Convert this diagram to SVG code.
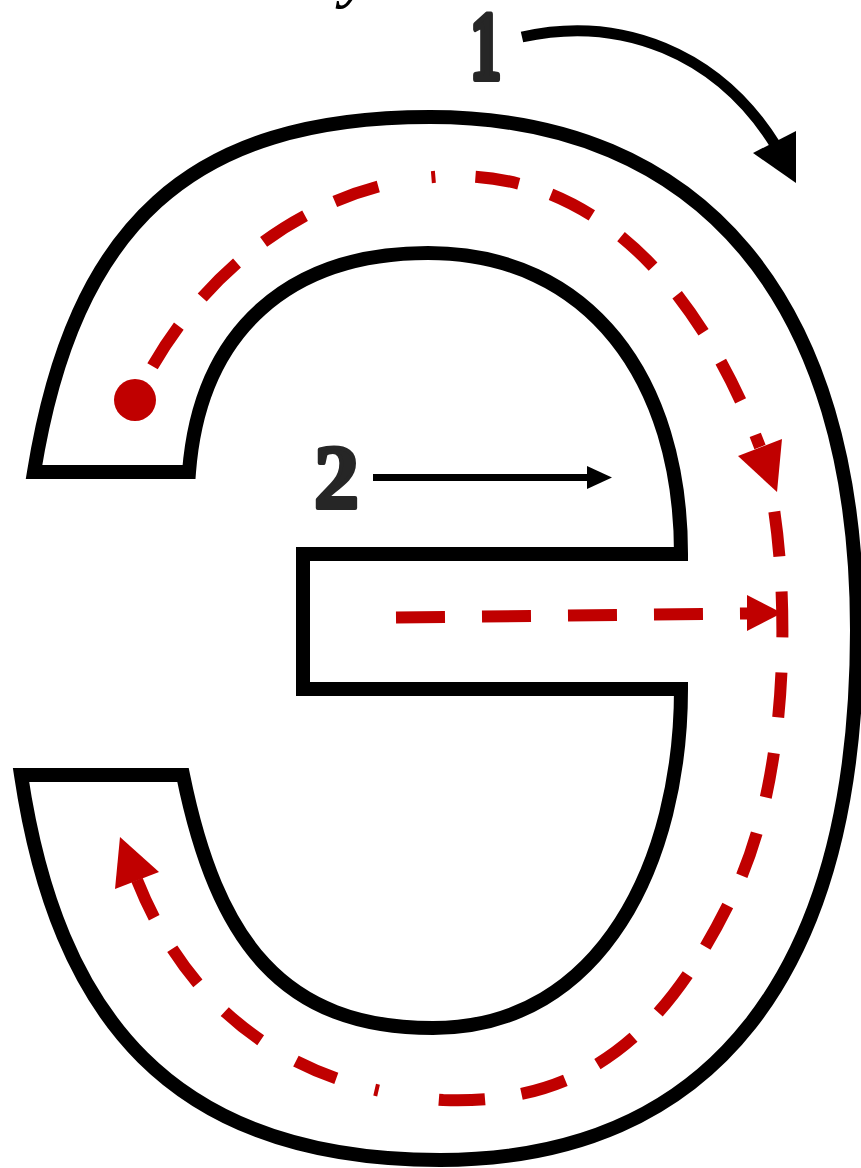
<svg xmlns="http://www.w3.org/2000/svg" width="861" height="1168" viewBox="0 0 861 1168">
<style>
.outline{fill:none;stroke:#000;stroke-width:14;stroke-linejoin:miter;stroke-miterlimit:10}
.guide{fill:none;stroke:#c00000;stroke-width:12;stroke-linecap:butt}
.redhead{fill:#c00000;stroke:none}
.blkline{fill:none;stroke:#000}
.blkhead{fill:#000;stroke:none}
.num{font-family:"Liberation Serif","Times New Roman",serif;font-weight:bold;fill:#262626;stroke:#262626;stroke-linejoin:round}
</style>
<rect x="0" y="0" width="861" height="1168" fill="#ffffff"/>
<g id="top-fragment">
<text x="342" y="-5" font-family="Liberation Serif, serif" font-style="italic" font-weight="bold" font-size="64" fill="#000">y</text>
</g>
<g id="letter-outline">
<path class="outline" d="M34,472 L189,472 C200,330 290,253 428,253 C590,253 681,380 681,554 L303,554 L303,689 L681,689 C681,859 603,1028 433,1028 C283,1028 217,942 183,775 L21,775 C57,1015 170,1160 440,1160 C711,1160 857,974.5 857,630 C857,300 700,117 430,117 C190,117 74,225 34,472 Z"/>
</g>
<g id="label-1">
<text class="num" font-size="98" stroke-width="6" transform="translate(470,79) scale(0.64,1)" x="0" y="0">1</text>
</g>
<g id="label-2">
<text class="num" font-size="90" stroke-width="4" x="314" y="508">2</text>
</g>
<g id="start-dot">
<circle cx="135" cy="400" r="21" fill="#c00000"/>
</g>
<g id="connectors">
<path id="stroke-1-guide" class="guide" stroke-dasharray="0 38 48 37 49 34 49 33 46 54 4 40 44 34 46 36 44 37 46 34 44 37 60" d="M135,400 C200,260 330,175 460,176 C600,178 700,290 760,447"/>
<polygon class="redhead" points="777,492 738,456 782,439"/>
<path id="stroke-1b-guide" class="guide" stroke-dasharray="0 15 45 35 46 35 45 36 45 37 45 33 47 33 48 35 45 36 46 37 46 61 4 40 44 41 46 39 43 36 60" d="M772,497 C790,600 790,790 728,905 C669.5,1022 593,1106 443,1100 C303,1090 192.5,1019.5 137,880"/>
<polygon class="redhead" points="120,837 115,889 159,872"/>
<path id="stroke-2-guide" class="guide" stroke-dasharray="49 37" d="M396,617.5 L748,613.5"/>
<polygon class="redhead" points="782,613 747,595 747,631"/>
<path id="arrow-1" class="blkline" stroke-width="11" d="M522,37 C620,15 718,52 776,146"/>
<polygon class="blkhead" points="796,183 753,153 796,131"/>
<path id="arrow-2" class="blkline" stroke-width="7" d="M373,477.5 L590,477.5"/>
<polygon class="blkhead" points="612,477.5 587,466 587,489"/>
</g>
</svg>
